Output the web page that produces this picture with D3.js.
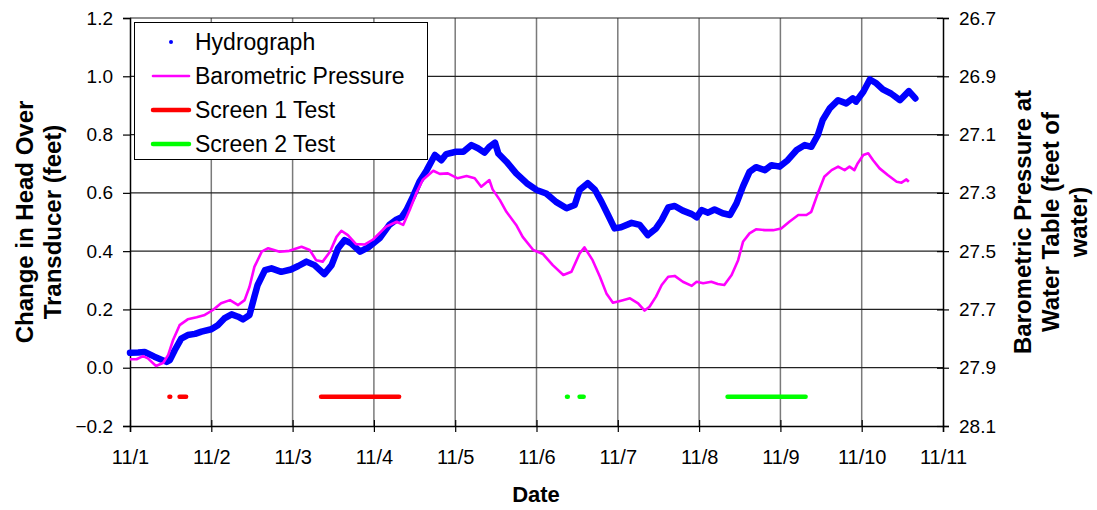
<!DOCTYPE html>
<html>
<head>
<meta charset="utf-8">
<script src="https://cdn.jsdelivr.net/npm/d3@7"></script>
<style>
body{margin:0;background:#fff;}
text{font-family:Arial,"Liberation Sans",sans-serif;}
</style>
</head>
<body>
<div id="graphHolder"></div>
<script>
// days after 11/1 00:00
var hydroDays = [0.00,0.10,0.18,0.30,0.45,0.49,0.55,0.63,0.71,0.80,0.88,1.00,1.08,1.16,1.25,1.33,1.39,1.47,1.53,1.57,
	1.66,1.74,1.86,1.98,2.07,2.17,2.27,2.39,2.48,2.56,2.64,2.72,2.83,2.93,3.07,3.19,3.28,3.34,3.40,3.48,
	3.56,3.65,3.75,3.83,3.89,4.01,4.10,4.20,4.28,4.36,4.42,4.49,4.53,4.63,4.75,4.88,5.00,5.12,5.24,5.37,
	5.47,5.53,5.63,5.72,5.80,5.88,5.96,6.04,6.17,6.27,6.37,6.47,6.54,6.62,6.70,6.80,6.91,6.97,7.03,7.11,
	7.19,7.29,7.38,7.46,7.54,7.62,7.70,7.81,7.89,7.99,8.09,8.20,8.30,8.38,8.46,8.52,8.61,8.71,8.81,8.89,
	8.93,9.02,9.10,9.18,9.26,9.36,9.47,9.58,9.66];
var hydroHead = [0.051,0.052,0.054,0.038,0.020,0.026,0.060,0.100,0.112,0.116,0.124,0.132,0.146,0.169,0.183,0.175,0.166,0.181,0.244,0.284,
	0.335,0.341,0.329,0.337,0.349,0.364,0.352,0.321,0.352,0.410,0.438,0.427,0.398,0.413,0.444,0.490,0.509,0.516,0.541,0.587,
	0.638,0.678,0.730,0.712,0.733,0.741,0.741,0.764,0.753,0.738,0.758,0.772,0.735,0.707,0.667,0.633,0.610,0.598,0.569,0.547,
	0.558,0.610,0.633,0.610,0.569,0.524,0.478,0.482,0.497,0.490,0.455,0.478,0.507,0.550,0.555,0.539,0.527,0.516,0.541,0.532,
	0.543,0.530,0.524,0.564,0.622,0.672,0.688,0.678,0.695,0.690,0.712,0.747,0.764,0.758,0.798,0.850,0.891,0.918,0.907,0.924,
	0.913,0.947,0.989,0.976,0.955,0.941,0.918,0.949,0.924];

var baroDays = [0.00,0.08,0.16,0.22,0.32,0.41,0.47,0.53,0.61,0.71,0.82,0.92,1.02,1.12,1.23,1.33,1.41,1.47,1.53,1.62,
	1.70,1.84,1.96,2.11,2.21,2.29,2.37,2.46,2.54,2.60,2.68,2.78,2.89,2.99,3.15,3.28,3.36,3.44,3.52,3.60,
	3.73,3.81,3.91,4.03,4.14,4.24,4.32,4.42,4.46,4.55,4.63,4.75,4.83,4.96,5.08,5.20,5.33,5.43,5.53,5.59,
	5.69,5.78,5.86,5.94,6.04,6.15,6.25,6.33,6.39,6.47,6.54,6.62,6.70,6.80,6.91,6.97,7.05,7.15,7.23,7.31,
	7.40,7.48,7.54,7.62,7.70,7.81,7.91,8.01,8.11,8.22,8.32,8.38,8.46,8.54,8.63,8.71,8.79,8.85,8.91,8.95,
	9.02,9.08,9.14,9.22,9.32,9.43,9.49,9.55,9.58];
// feet of water at the water table (right axis)
var baroPressure = [27.871,27.871,27.860,27.868,27.894,27.883,27.856,27.805,27.754,27.734,27.727,27.719,27.702,27.679,27.668,27.685,27.668,27.622,27.554,27.502,
	27.490,27.502,27.499,27.485,27.496,27.531,27.536,27.502,27.451,27.430,27.445,27.476,27.477,27.460,27.416,27.399,27.410,27.359,27.302,27.256,
	27.224,27.235,27.233,27.250,27.242,27.250,27.279,27.256,27.288,27.325,27.365,27.410,27.451,27.496,27.510,27.548,27.582,27.571,27.508,27.487,
	27.531,27.588,27.645,27.677,27.670,27.662,27.679,27.704,27.691,27.656,27.616,27.588,27.585,27.605,27.619,27.605,27.610,27.605,27.613,27.616,
	27.582,27.531,27.468,27.439,27.425,27.428,27.428,27.422,27.399,27.376,27.376,27.365,27.302,27.245,27.222,27.210,27.222,27.210,27.222,27.199,
	27.170,27.164,27.188,27.216,27.239,27.262,27.265,27.254,27.262];

// test periods [start day, end day], drawn at -0.1
var screen1Test = [[0.485,0.495],[0.61,0.69],[2.35,3.31]];
var screen2Test = [[5.375,5.385],[5.53,5.58],[7.35,8.31]];
var testLevel = -0.1;

var dateLabels = ["11/1","11/2","11/3","11/4","11/5","11/6","11/7","11/8","11/9","11/10","11/11"];
var headTicks = [-0.2,0,0.2,0.4,0.6,0.8,1.0,1.2];
var pressTicks = [26.7,26.9,27.1,27.3,27.5,27.7,27.9,28.1];

var legendNames = ["Hydrograph","Barometric Pressure","Screen 1 Test","Screen 2 Test"];
var legendColors = ["#0000ff","#ff00ff","#ff0000","#00ff00"];

function drawChart(){
	var W = 1097, H = 510;
	var pLeft = 130, pRight = 943, pTop = 18, pBottom = 426;

	var svg = d3.select("#graphHolder").append("svg")
		.attr("width",W)
		.attr("height",H);

	var x = d3.scaleLinear().domain([0,10]).range([pLeft,pRight]);
	var y = d3.scaleLinear().domain([-0.2,1.2]).range([pBottom,pTop]);
	var y2 = d3.scaleLinear().domain([26.7,28.1]).range([pTop,pBottom]);

	// grid
	svg.append("g").selectAll("line")
		.data(d3.range(1,10))
		.enter().append("line")
		.attr("x1",function(d){return x(d);})
		.attr("x2",function(d){return x(d);})
		.attr("y1",pTop).attr("y2",pBottom)
		.style("stroke","#7a7a7a")
		.style("stroke-width",1.5);
	svg.append("g").selectAll("line")
		.data(headTicks.slice(1))
		.enter().append("line")
		.attr("x1",pLeft).attr("x2",pRight)
		.attr("y1",function(d){return y(d);})
		.attr("y2",function(d){return y(d);})
		.style("stroke","#222")
		.style("stroke-width",1.2);

	// axes
	var xAxis = d3.axisBottom(x)
		.tickValues(d3.range(0,11))
		.tickSize(6)
		.tickFormat(function(d,i){return dateLabels[i];});
	var yAxis = d3.axisLeft(y).tickValues(headTicks).tickSize(7)
		.tickFormat(d3.format(".1f"));
	var yAxis2 = d3.axisRight(y2).tickValues(pressTicks).tickSize(6)
		.tickFormat(d3.format(".1f"));

	var gx = svg.append("g").attr("transform","translate(0,"+pBottom+")").call(xAxis);
	var gy = svg.append("g").attr("transform","translate("+pLeft+",0)").call(yAxis);
	var gy2 = svg.append("g").attr("transform","translate("+pRight+",0)").call(yAxis2);

	[gx,gy,gy2].forEach(function(g){
		g.attr("font-size",null).attr("font-family",null);
		g.select(".domain").style("stroke","#000").style("stroke-width",1.5);
		g.selectAll(".tick line").style("stroke","#000").style("stroke-width",1.2);
		g.selectAll(".tick text")
			.style("font-size","19px")
			.style("fill","#000");
	});
	gx.selectAll(".tick text").style("font-size","20px");
	// bottom and right ticks cross the axis line
	gx.selectAll(".tick line").attr("y1",-6);
	gy2.selectAll(".tick line").attr("x1",-6);
	gx.selectAll(".tick text").attr("y",24);
	gy.selectAll(".tick text").attr("x",-17);
	gy2.selectAll(".tick text").attr("x",16);

	// hydrograph (dense logger points, drawn thick)
	var hydro = hydroDays.map(function(d,i){return [d,hydroHead[i]];});
	svg.append("path")
		.datum(hydro)
		.attr("d",d3.line().x(function(d){return x(d[0]);}).y(function(d){return y(d[1]);}))
		.style("fill","none")
		.style("stroke","#0000ff")
		.style("stroke-width",6.5)
		.style("stroke-linejoin","round")
		.style("stroke-linecap","round");

	var baro = baroDays.map(function(d,i){return [d,baroPressure[i]];});
	svg.append("path")
		.datum(baro)
		.attr("d",d3.line().x(function(d){return x(d[0]);}).y(function(d){return y2(d[1]);}))
		.style("fill","none")
		.style("stroke","#ff00ff")
		.style("stroke-width",2.6)
		.style("stroke-linejoin","round");

	function drawTest(segs,color){
		svg.append("g").selectAll("line")
			.data(segs)
			.enter().append("line")
			.attr("x1",function(d){return x(d[0]);})
			.attr("x2",function(d){return x(d[1]);})
			.attr("y1",y(testLevel)).attr("y2",y(testLevel))
			.style("stroke",color)
			.style("stroke-width",4.5)
			.style("stroke-linecap","round");
	}
	drawTest(screen1Test,"#ff0000");
	drawTest(screen2Test,"#00ff00");

	// legend
	var lg = svg.append("g");
	lg.append("rect")
		.attr("x",134.5).attr("y",22.5)
		.attr("width",293).attr("height",137)
		.style("fill","#fff")
		.style("stroke","#000")
		.style("stroke-width",1);
	var rowY = [42,76,110,144];
	legendNames.forEach(function(name,i){
		if(i==0){
			lg.append("circle").attr("cx",171).attr("cy",rowY[i]).attr("r",2).style("fill",legendColors[i]);
		}else{
			lg.append("line")
				.attr("x1",153).attr("x2",189)
				.attr("y1",rowY[i]).attr("y2",rowY[i])
				.style("stroke",legendColors[i])
				.style("stroke-width",i==1?2.6:4.5)
				.style("stroke-linecap","round");
		}
		lg.append("text")
			.attr("x",195)
			.attr("y",rowY[i]+8)
			.style("font-size","23px")
			.text(name);
	});

	// axis titles
	var lt = svg.append("text")
		.attr("transform","translate(0,222) rotate(-90)")
		.attr("text-anchor","middle")
		.style("font-size","24px")
		.style("font-weight","bold");
	lt.append("tspan").attr("x",0).attr("y",33).text("Change in Head Over");
	lt.append("tspan").attr("x",0).attr("y",61).text("Transducer (feet)");

	var rt = svg.append("text")
		.attr("transform","translate(1000,222) rotate(-90)")
		.attr("text-anchor","middle")
		.style("font-size","24px")
		.style("font-weight","bold");
	rt.append("tspan").attr("x",0).attr("y",31).text("Barometric Pressure at");
	rt.append("tspan").attr("x",0).attr("y",59).text("Water Table (feet of");
	rt.append("tspan").attr("x",0).attr("y",87).text("water)");

	svg.append("text")
		.attr("x",536).attr("y",502)
		.attr("text-anchor","middle")
		.style("font-size","22px")
		.style("font-weight","bold")
		.text("Date");
}
drawChart();
</script>
</body>
</html>
